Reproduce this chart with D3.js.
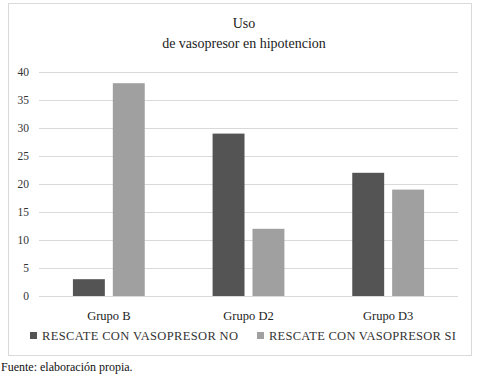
<!DOCTYPE html>
<html>
<head>
<meta charset="utf-8">
<script src="https://cdn.jsdelivr.net/npm/d3@7"></script>
<style>
  body { margin: 0; background: #fff; }
  svg text { font-family: 'Liberation Serif', 'Liberation Sans', sans-serif; }
</style>
</head>
<body>
<svg width="489" height="375"></svg>
<script>
const categories = ['Grupo B', 'Grupo D2', 'Grupo D3'];
const seriesNames = ['RESCATE CON VASOPRESOR NO', 'RESCATE CON VASOPRESOR SI'];
const valuesNo = [3, 29, 22];
const valuesSi = [38, 12, 19];
const yTicks = [0, 5, 10, 15, 20, 25, 30, 35, 40];
const colors = ['#545454', '#a0a0a0'];

const svg = d3.select('svg');

// chart frame
svg.append('rect')
    .attr('x', 8.5).attr('y', 3.5)
    .attr('width', 463).attr('height', 352)
    .attr('fill', '#fff').attr('stroke', '#d9d9d9');

// title
const title = svg.append('text')
    .attr('text-anchor', 'middle')
    .attr('font-size', 14)
    .attr('fill', '#222');
title.append('tspan').attr('x', 244).attr('y', 28).text('Uso');
title.append('tspan').attr('x', 244).attr('y', 48).text('de vasopresor en hipotencion');

const x = d3.scaleBand().domain(categories).range([39, 458]);
const y = d3.scaleLinear().domain([0, 40]).range([296, 72]);
const xs = d3.scaleBand().domain([0, 1]).range([0, x.bandwidth()]).paddingInner(0.2).paddingOuter(0.85);

// grid
svg.append('g').selectAll('line')
    .data(yTicks)
    .join('line')
    .attr('x1', 39).attr('x2', 458)
    .attr('y1', d => Math.round(y(d)) + 0.5)
    .attr('y2', d => Math.round(y(d)) + 0.5)
    .attr('stroke', '#d9d9d9');

// y labels
svg.append('g').selectAll('text')
    .data(yTicks)
    .join('text')
    .attr('x', 29)
    .attr('y', d => y(d) + 4)
    .attr('text-anchor', 'end')
    .attr('font-size', 11.5)
    .attr('fill', '#333')
    .text(d => d);

// bars
const rows = categories.map((c, i) => ({ c, v: [valuesNo[i], valuesSi[i]] }));
const groups = svg.append('g').selectAll('g')
    .data(rows)
    .join('g')
    .attr('transform', d => `translate(${x(d.c)},0)`);

groups.selectAll('rect')
    .data(d => d.v.map((v, k) => ({ v, k })))
    .join('rect')
    .attr('x', d => xs(d.k))
    .attr('y', d => y(d.v))
    .attr('width', xs.bandwidth())
    .attr('height', d => y(0) - y(d.v))
    .attr('fill', d => colors[d.k]);

// category labels
svg.append('g').selectAll('text')
    .data(categories)
    .join('text')
    .attr('x', d => x(d) + x.bandwidth() / 2)
    .attr('y', 320)
    .attr('text-anchor', 'middle')
    .attr('font-size', 12.5)
    .attr('fill', '#222')
    .text(d => d);

// legend
const legendX = [30, 257];
const leg = svg.append('g').selectAll('g')
    .data(seriesNames)
    .join('g')
    .attr('transform', (d, i) => `translate(${legendX[i]},336)`);
leg.append('rect')
    .attr('x', 0).attr('y', -4)
    .attr('width', 7).attr('height', 7)
    .attr('fill', (d, i) => colors[i]);
leg.append('text')
    .attr('x', 12).attr('y', 4)
    .attr('font-size', 12.5)
    .attr('textLength', (d, i) => i ? 187 : 196)
    .attr('fill', '#333')
    .text(d => d);

// source
svg.append('text')
    .attr('x', 1).attr('y', 371)
    .attr('font-size', 12)
    .attr('fill', '#111')
    .text('Fuente: elaboración propia.');
</script>
</body>
</html>
